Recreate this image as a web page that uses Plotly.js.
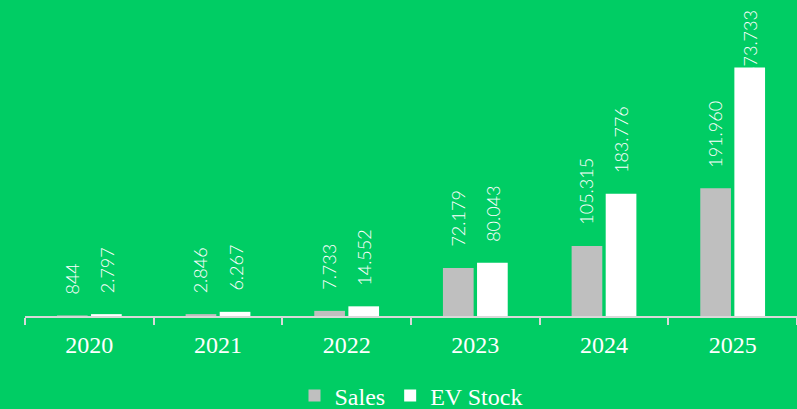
<!DOCTYPE html>
<html>
<head>
<meta charset="utf-8">
<script src="https://cdn.plot.ly/plotly-3.0.1.min.js"></script>
<style>html,body{margin:0;padding:0;background:#00CD64;}#chart{width:797px;height:409px;}</style>
</head>
<body>
<div id="chart"></div>
<script>
const years = ['2020', '2021', '2022', '2023', '2024', '2025'];
const sales = [844, 2846, 7733, 72179, 105315, 191960];
const evStock = [2797, 6267, 14552, 80043, 183776, 373733];
const seriesNames = ['Sales', 'EV Stock'];

const H = 409, T = 50, B = 93;
const plotH = H - T - B;
const yMax = 400000;

function fmt(v) {
  return String(v).replace(/\B(?=(\d{3})+(?!\d))/g, '.');
}

const traces = [
  {type: 'bar', name: seriesNames[0], x: years, y: sales, marker: {color: '#BFBFBF'}, hoverinfo: 'skip'},
  {type: 'bar', name: seriesNames[1], x: years, y: evStock, marker: {color: '#FFFFFF'}, hoverinfo: 'skip'}
];

const labelFont = {family: 'Lato, "Open Sans", sans-serif', size: 18, color: '#FFFFFF', weight: 300};
const annotations = [];
const groupOffset = 0.138;
[sales, evStock].forEach((arr, si) => {
  arr.forEach((v, i) => {
    const txt = fmt(v);
    const barTopPx = T + plotH * (1 - v / yMax);
    const estLen = txt.length * 9.5;
    const xpos = i + (si === 0 ? -groupOffset : groupOffset);
    if (barTopPx - 21 - estLen < 5) {
      annotations.push({x: xpos, xref: 'x', y: 1 + (T - 8) / plotH, yref: 'paper', text: txt,
        textangle: -90, showarrow: false, xanchor: 'center', yanchor: 'top', font: labelFont});
    } else {
      annotations.push({x: xpos, xref: 'x', y: v, yref: 'y', text: txt, yshift: 19,
        textangle: -90, showarrow: false, xanchor: 'center', yanchor: 'bottom', font: labelFont});
    }
  });
});

const layout = {
  width: 797, height: 409,
  margin: {l: 25, r: 0, t: T, b: B, autoexpand: false},
  paper_bgcolor: '#00CD64', plot_bgcolor: '#00CD64',
  barmode: 'group', bargap: 0.47, bargroupgap: 0.1,
  showlegend: true,
  legend: {orientation: 'h', x: 0.5, xanchor: 'center', y: -(396 - 316) / plotH, yanchor: 'middle',
    font: {family: '"Liberation Serif", "Times New Roman", serif', size: 24, color: '#FFFFFF'},
    bgcolor: 'rgba(0,0,0,0)', itemwidth: 30},
  xaxis: {type: 'category', showgrid: false, showline: true, linecolor: '#D9D9D9', linewidth: 2,
    ticks: 'outside', tickson: 'boundaries', ticklen: 7, tickcolor: '#D9D9D9', tickwidth: 2,
    ticklabelstandoff: 6, automargin: false,
    tickfont: {family: '"Liberation Serif", "Times New Roman", serif', size: 24, color: '#FFFFFF'},
    zeroline: false, fixedrange: true},
  yaxis: {range: [0, yMax], visible: false, showgrid: false, zeroline: false, fixedrange: true, automargin: false},
  annotations: annotations
};

Plotly.newPlot('chart', traces, layout, {displayModeBar: false, staticPlot: true});
</script>
</body>
</html>
